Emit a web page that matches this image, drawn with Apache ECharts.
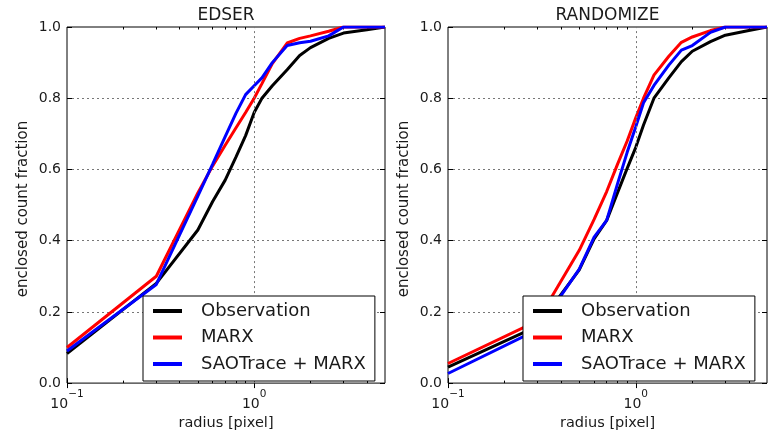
<!DOCTYPE html>
<html>
<head>
<meta charset="utf-8">
<script src="https://cdn.jsdelivr.net/npm/echarts@6/dist/echarts.min.js"></script>
<style>html,body{margin:0;padding:0;background:#fff;}#c{width:770px;height:436px;}</style>
</head>
<body>
<div id="c"></div>
<script>
// ---- data ----
const radius = [0.1, 0.3, 0.5, 0.6, 0.7, 0.8, 0.9, 1.0, 1.1, 1.25, 1.5, 1.75, 2.0, 2.5, 3.0, 4.0, 5.0];
const panelTitles = ['EDSER', 'RANDOMIZE'];
const seriesNames = ['Observation', 'MARX', 'SAOTrace + MARX'];
const edserObservation = [0.083, 0.28, 0.43, 0.51, 0.57, 0.635, 0.695, 0.76, 0.80, 0.835, 0.88, 0.92, 0.942, 0.968, 0.983, 0.992, 1.0];
const edserMarx        = [0.10, 0.30, 0.534, 0.61, 0.668, 0.717, 0.76, 0.80, 0.841, 0.897, 0.955, 0.968, 0.975, 0.988, 1.0, 1.0, 1.0];
const edserSaoMarx     = [0.09, 0.277, 0.525, 0.615, 0.692, 0.758, 0.81, 0.835, 0.857, 0.90, 0.948, 0.956, 0.96, 0.975, 1.0, 1.0, 1.0];
const randObservation  = [0.045, 0.16, 0.318, 0.405, 0.457, 0.535, 0.603, 0.662, 0.725, 0.80, 0.857, 0.903, 0.932, 0.959, 0.977, 0.99, 1.0];
const randMarx         = [0.055, 0.175, 0.373, 0.46, 0.538, 0.615, 0.68, 0.745, 0.80, 0.865, 0.918, 0.957, 0.972, 0.99, 1.0, 1.0, 1.0];
const randSaoMarx      = [0.027, 0.15, 0.32, 0.41, 0.457, 0.56, 0.648, 0.72, 0.787, 0.836, 0.893, 0.935, 0.948, 0.985, 1.0, 1.0, 1.0];
const xMajor = [0.1, 1];
const xMinor = [0.2, 0.3, 0.4, 0.5, 0.6, 0.7, 0.8, 0.9, 2, 3, 4];
const xGridLines = [1];
const xMin = 0.1, xMax = 5;

// ---- chart ----
const FONT = 'DejaVu Sans';
const TXT = '#1a1a1a';
const colors = ['#000000', '#ff0000', '#0000ff'];
const panelData = [
  [edserObservation, edserMarx, edserSaoMarx],
  [randObservation, randMarx, randSaoMarx]
];
const grids = [
  {left: 67, top: 27, width: 318, height: 361},
  {left: 448, top: 27, width: 319, height: 361}
];
const legendPos = [{left: 143, top: 296}, {left: 523, top: 296}];
const gridLineStyle = {color: '#777', width: 1, type: [2, 3]};

function pairs(xs, ys) { return xs.map((x, i) => [x, ys[i]]); }
function logLabel(v) {
  const l = Math.log10(v);
  const e = Math.round(l);
  if (Math.abs(l - e) > 1e-6) return '';
  return '{b|10}{s|' + (e < 0 ? '\u2212' : '') + Math.abs(e) + '}';
}

const option = {
  animation: false,
  backgroundColor: '#fff',
  textStyle: {fontFamily: FONT},
  grid: grids.map(g => Object.assign({show: true, borderColor: '#000', borderWidth: 1, backgroundColor: 'transparent', containLabel: false}, g)),
  xAxis: [],
  yAxis: [],
  series: [],
  legend: [],
  graphic: []
};

grids.forEach((g, gi) => {
  option.xAxis.push({
    type: 'log', logBase: 10, gridIndex: gi, min: xMin, max: xMax, position: 'bottom',
    name: 'radius [pixel]', nameLocation: 'middle', nameGap: 31,
    nameTextStyle: {fontSize: 14.5, color: TXT, fontFamily: FONT},
    axisLine: {show: false},
    axisTick: {show: true, inside: true, length: 5, lineStyle: {color: '#000'}, customValues: xMajor},
    axisLabel: {
      show: true, margin: 6, formatter: logLabel, customValues: xMajor,
      rich: {
        b: {fontSize: 14, color: TXT, fontFamily: FONT, lineHeight: 22, verticalAlign: 'bottom'},
        s: {fontSize: 10.5, color: TXT, fontFamily: FONT, lineHeight: 10, verticalAlign: 'top'}
      }
    },
    splitLine: {show: false},
    minorTick: {show: false}
  });
  option.xAxis.push({
    type: 'log', logBase: 10, gridIndex: gi, min: xMin, max: xMax, position: 'top',
    axisLine: {show: false},
    axisTick: {show: true, inside: true, length: 5, lineStyle: {color: '#000'}, customValues: xMajor},
    axisLabel: {show: false}, splitLine: {show: false}
  });
  ['bottom', 'top'].forEach(pos => {
    option.xAxis.push({
      type: 'log', logBase: 10, gridIndex: gi, min: xMin, max: xMax, position: pos,
      axisLine: {show: false},
      axisTick: {show: true, inside: true, length: 2.5, lineStyle: {color: '#000'}, customValues: xMinor},
      axisLabel: {show: false}, splitLine: {show: false}
    });
  });
  option.yAxis.push({
    type: 'value', gridIndex: gi, min: 0, max: 1, interval: 0.2, position: 'left',
    name: 'enclosed count fraction', nameLocation: 'middle', nameGap: 36,
    nameTextStyle: {fontSize: 15, color: TXT, fontFamily: FONT, padding: [0, 8, 0, 0]},
    axisLine: {show: false},
    axisTick: {show: true, inside: true, length: 5, lineStyle: {color: '#000'}},
    axisLabel: {show: true, margin: 6, fontSize: 14, color: TXT, fontFamily: FONT, formatter: v => v.toFixed(1)},
    splitLine: {show: true, showMinLine: false, showMaxLine: false, lineStyle: gridLineStyle}
  });
  option.yAxis.push({
    type: 'value', gridIndex: gi, min: 0, max: 1, interval: 0.2, position: 'right',
    axisLine: {show: false},
    axisTick: {show: true, inside: true, length: 5, lineStyle: {color: '#000'}},
    axisLabel: {show: false}, splitLine: {show: false}
  });

  panelData[gi].forEach((vals, si) => {
    const s = {
      type: 'line', name: seriesNames[si], xAxisIndex: gi * 4, yAxisIndex: gi * 2,
      data: pairs(radius, vals), showSymbol: false, symbol: 'none', smooth: false,
      lineStyle: {color: colors[si], width: 3}, itemStyle: {color: colors[si]},
      clip: true
    };
    if (si === 0) {
      s.markLine = {
        silent: true, symbol: 'none', label: {show: false}, animation: false,
        lineStyle: gridLineStyle, emphasis: {disabled: true},
        data: xGridLines.map(v => ({xAxis: v}))
      };
    }
    option.series.push(s);
  });

  option.legend.push({
    orient: 'vertical', left: legendPos[gi].left, top: legendPos[gi].top, z: 20,
    data: seriesNames, icon: 'rect', itemWidth: 29, itemHeight: 4, itemGap: 6.5,
    padding: [5, 9, 7, 10], borderColor: '#000', borderWidth: 1, borderRadius: 0,
    backgroundColor: '#fff', selectedMode: false,
    textStyle: {fontSize: 18, color: TXT, fontFamily: FONT, lineHeight: 20, padding: [0, 0, 0, 14]}
  });

  option.graphic.push({
    type: 'text', x: g.left + g.width / 2, y: 16,
    style: {text: panelTitles[gi], fontSize: 17, fontFamily: FONT, fill: TXT, textAlign: 'center', textVerticalAlign: 'middle'}
  });
});

const chart = echarts.init(document.getElementById('c'), null, {renderer: 'canvas'});
chart.setOption(option);
</script>
</body>
</html>
